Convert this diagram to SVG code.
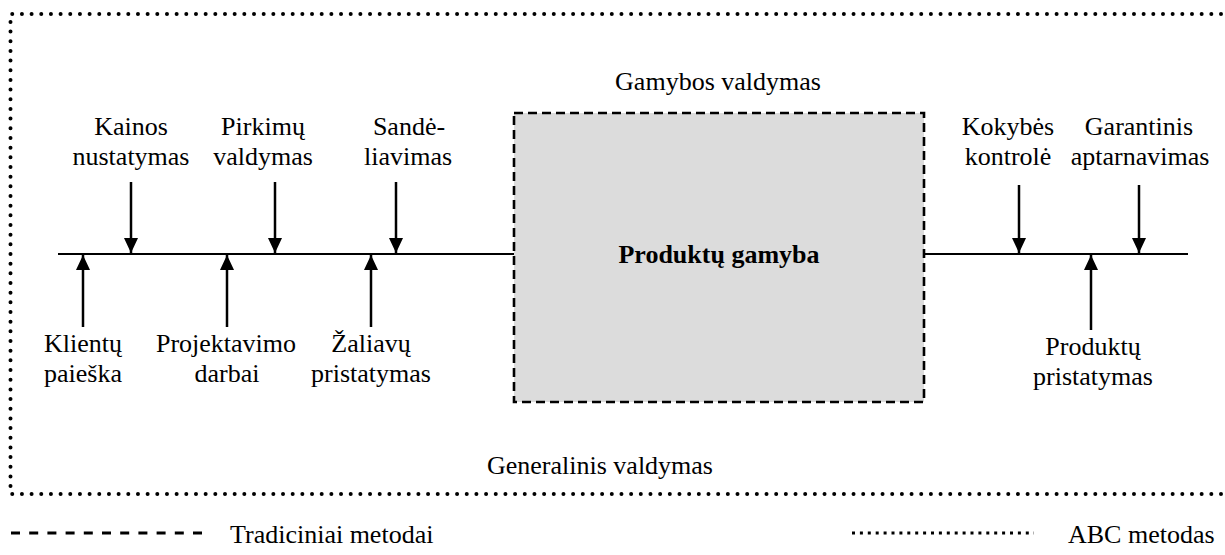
<svg xmlns="http://www.w3.org/2000/svg" width="1225" height="555" viewBox="0 0 1225 555">
<style>
text{font-family:'Liberation Serif','DejaVu Serif',serif;font-size:26px;fill:#000;text-anchor:middle}
.b{font-weight:bold}
.ln{stroke:#000;stroke-width:2;fill:none}
.ar{stroke:#000;stroke-width:2.5;fill:none}
.dot{stroke:#000;stroke-width:4;fill:none;stroke-linecap:round;stroke-dasharray:0 9.67}
</style>
<defs>
<marker id="ah" viewBox="0 0 15 14" refX="15" refY="7" markerWidth="15" markerHeight="14" markerUnits="userSpaceOnUse" orient="auto">
<path d="M0,0 L15,7 L0,14 Z" fill="#000"/>
</marker>
</defs>
<g id="frame">
<path class="dot" d="M1221,14 H10.5 V494 H1225"/>
</g>
<g id="labels-outer" font-family="Liberation Serif, serif">
<text x="718" y="90">Gamybos valdymas</text>
<text x="600" y="474">Generalinis valdymas</text>
</g>
<g id="production">
<rect x="514" y="113" width="410" height="289" fill="#dcdcdc" stroke="#000" stroke-width="2.6" stroke-dasharray="9 5"/>
<text class="b" x="719" y="263">Produktų gamyba</text>
</g>
<g id="connectors">
<line class="ln" x1="58" y1="254" x2="514" y2="254"/>
<line class="ln" x1="924" y1="254" x2="1188" y2="254"/>
<line class="ar" x1="131" y1="182" x2="131" y2="253" marker-end="url(#ah)"/>
<line class="ar" x1="275" y1="182" x2="275" y2="253" marker-end="url(#ah)"/>
<line class="ar" x1="396" y1="182" x2="396" y2="253" marker-end="url(#ah)"/>
<line class="ar" x1="1019" y1="185" x2="1019" y2="253" marker-end="url(#ah)"/>
<line class="ar" x1="1139" y1="185" x2="1139" y2="253" marker-end="url(#ah)"/>
<line class="ar" x1="83" y1="327" x2="83" y2="255" marker-end="url(#ah)"/>
<line class="ar" x1="227" y1="327" x2="227" y2="255" marker-end="url(#ah)"/>
<line class="ar" x1="371" y1="327" x2="371" y2="255" marker-end="url(#ah)"/>
<line class="ar" x1="1091" y1="330" x2="1091" y2="255" marker-end="url(#ah)"/>
</g>
<g id="kainos"><text x="131" y="135">Kainos</text><text x="131" y="165">nustatymas</text></g>
<g id="pirkimu"><text x="263" y="135">Pirkimų</text><text x="263" y="165">valdymas</text></g>
<g id="sandeliavimas"><text x="409" y="135">Sandė-</text><text x="408" y="165">liavimas</text></g>
<g id="kokybes"><text x="1008" y="135">Kokybės</text><text x="1008" y="165">kontrolė</text></g>
<g id="garantinis"><text x="1139" y="135">Garantinis</text><text x="1140" y="165">aptarnavimas</text></g>
<g id="klientu"><text x="83" y="352">Klientų</text><text x="83" y="382">paieška</text></g>
<g id="projektavimo"><text x="226" y="352">Projektavimo</text><text x="227" y="382">darbai</text></g>
<g id="zaliavu"><text x="371" y="352">Žaliavų</text><text x="371" y="382">pristatymas</text></g>
<g id="produktu-pristatymas"><text x="1093" y="355">Produktų</text><text x="1093" y="385">pristatymas</text></g>
<g id="legend">
<line x1="11" y1="533" x2="203" y2="533" stroke="#000" stroke-width="3" stroke-dasharray="9 9.2"/>
<text x="230" y="543" style="text-anchor:start">Tradiciniai metodai</text>
<line x1="852" y1="533" x2="1034" y2="533" stroke="#000" stroke-width="3" stroke-dasharray="3 4.9"/>
<text x="1068" y="543" style="text-anchor:start">ABC metodas</text>
</g>
</svg>
